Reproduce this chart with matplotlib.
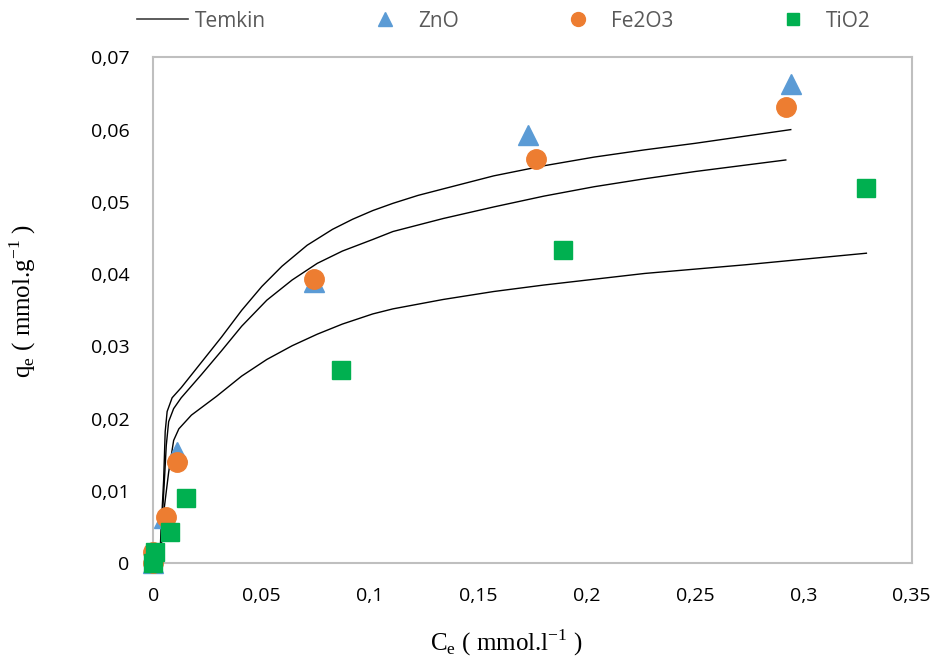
import matplotlib.pyplot as plt
from matplotlib.lines import Line2D
from matplotlib.ticker import FuncFormatter, MultipleLocator

# measured points
zno_ce = [0.0, 0.0050, 0.0108, 0.0741, 0.1731, 0.2942]
zno_qe = [0.0, 0.0062, 0.0154, 0.0389, 0.0592, 0.0663]
fe2o3_ce = [0.0, 0.0001, 0.0057, 0.0108, 0.0741, 0.1766, 0.2919]
fe2o3_qe = [0.0, 0.0015, 0.0064, 0.0140, 0.0393, 0.0559, 0.0631]
tio2_ce = [0.0, 0.0006, 0.0077, 0.0151, 0.0866, 0.1891, 0.3290]
tio2_qe = [0.0, 0.0016, 0.0043, 0.0090, 0.0268, 0.0433, 0.0519]

# Temkin model curves
tk_zno_ce = [0.0029, 0.0036, 0.0048, 0.0055, 0.0064, 0.0087, 0.0129, 0.0222, 0.0315,
             0.0408, 0.0501, 0.0594, 0.0710, 0.0827, 0.0920, 0.1013, 0.1106, 0.1222,
             0.1338, 0.1571, 0.1803, 0.2035, 0.2268, 0.2500, 0.2942]
tk_zno_qe = [0.0, 0.0046, 0.0116, 0.0182, 0.0210, 0.0229, 0.0243, 0.0278, 0.0313,
             0.0350, 0.0383, 0.0411, 0.0440, 0.0462, 0.0476, 0.0488, 0.0498, 0.0509,
             0.0518, 0.0536, 0.0550, 0.0562, 0.0572, 0.0581, 0.0600]
tk_fe_ce = [0.0031, 0.0038, 0.0050, 0.0060, 0.0071, 0.0094, 0.0129, 0.0222, 0.0315,
            0.0408, 0.0524, 0.0641, 0.0757, 0.0873, 0.1013, 0.1106, 0.1338, 0.1571,
            0.1803, 0.2035, 0.2268, 0.2500, 0.2919]
tk_fe_qe = [0.0, 0.0046, 0.0107, 0.0163, 0.0196, 0.0214, 0.0229, 0.0261, 0.0294,
            0.0328, 0.0364, 0.0392, 0.0415, 0.0432, 0.0448, 0.0459, 0.0477, 0.0493,
            0.0508, 0.0521, 0.0532, 0.0542, 0.0558]
tk_tio2_ce = [0.0032, 0.0048, 0.0071, 0.0094, 0.0118, 0.0176, 0.0292, 0.0408, 0.0524,
              0.0641, 0.0757, 0.0873, 0.1013, 0.1106, 0.1338, 0.1571, 0.1803, 0.2268,
              0.2733, 0.3291]
tk_tio2_qe = [0.0, 0.0070, 0.0126, 0.0170, 0.0186, 0.0205, 0.0231, 0.0259, 0.0282,
              0.0301, 0.0317, 0.0331, 0.0345, 0.0352, 0.0365, 0.0376, 0.0385, 0.0401,
              0.0413, 0.0429]

blue = "#5B9BD5"
orange = "#ED7D31"
green = "#00B050"
tick_font = "Open Sans"
label_font = "Liberation Serif"

fig = plt.figure(figsize=(9.34, 6.62), dpi=100)
ax = fig.add_axes([0.1641, 0.1491, 0.8120, 0.7643])

for ce, qe in [(tk_zno_ce, tk_zno_qe), (tk_fe_ce, tk_fe_qe), (tk_tio2_ce, tk_tio2_qe)]:
    ax.plot(ce, qe, color="black", lw=1.0, zorder=2)

ax.plot(zno_ce, zno_qe, ls="none", marker="^", ms=15, color=blue, mec=blue, zorder=3, clip_on=False)
ax.plot(fe2o3_ce, fe2o3_qe, ls="none", marker="o", ms=14, color=orange, mec=orange, zorder=4, clip_on=False)
ax.plot(tio2_ce, tio2_qe, ls="none", marker="s", ms=13, color=green, mec=green, zorder=5, clip_on=False)

ax.set_xlim(0, 0.35)
ax.set_ylim(0, 0.07)
ax.xaxis.set_major_locator(MultipleLocator(0.05))
ax.yaxis.set_major_locator(MultipleLocator(0.01))
comma = FuncFormatter(lambda v, p: f"{v:.2f}".rstrip("0").rstrip(".").replace(".", ",") if v else "0")
ax.xaxis.set_major_formatter(comma)
ax.yaxis.set_major_formatter(comma)
ax.tick_params(length=0, labelsize=14)
ax.tick_params(axis="x", pad=17)
ax.tick_params(axis="y", pad=17)
for lab in ax.get_xticklabels() + ax.get_yticklabels():
    lab.set_fontfamily(tick_font)
for sp in ax.spines.values():
    sp.set_color("#BFBFBF")
    sp.set_linewidth(1.5)

fig.text(0.542, 0.006, r"C$_\mathregular{e}$ ( mmol.l$^\mathregular{-1}$ )",
         family=label_font, fontsize=18, ha="center", va="bottom")
fig.text(0.024, 0.545, r"q$_\mathregular{e}$ ( mmol.g$^\mathregular{-1}$ )",
         family=label_font, fontsize=18, rotation=90, ha="center", va="center")

handles = [
    Line2D([], [], color="#404040", lw=1.2),
    Line2D([], [], ls="none", marker="^", ms=10, color=blue),
    Line2D([], [], ls="none", marker="o", ms=10, color=orange),
    Line2D([], [], ls="none", marker="s", ms=9, color=green),
]
leg = fig.legend(handles, ["Temkin", "ZnO", "Fe2O3", "TiO2"], ncol=4, loc="center",
                 bbox_to_anchor=(0.539, 0.968), frameon=False, handlelength=2.45,
                 handletextpad=0.35, columnspacing=4.5,
                 prop={"family": tick_font, "size": 15})
for t in leg.get_texts():
    t.set_color("#595959")

fig.savefig("out.png", dpi=100)
